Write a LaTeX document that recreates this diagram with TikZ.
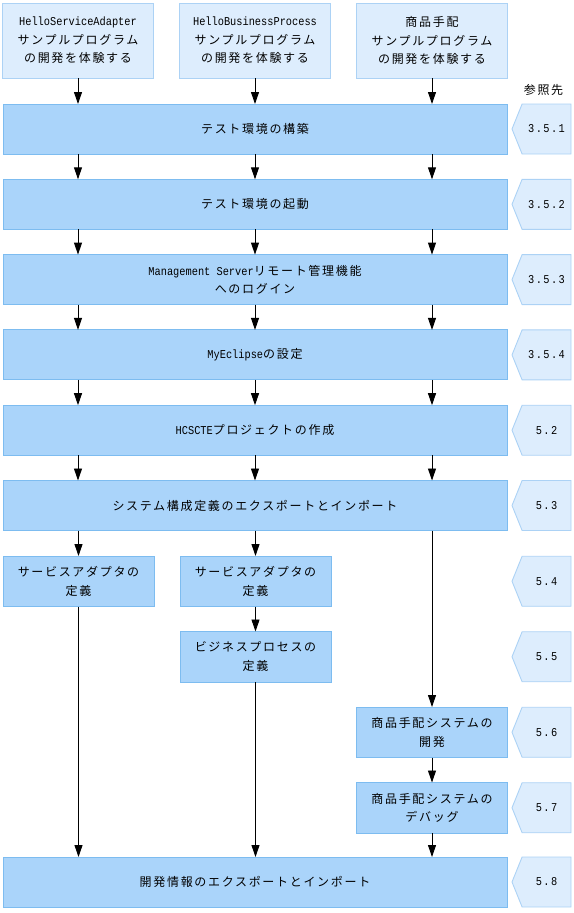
\documentclass[tikz,border=0pt]{standalone}
\usepackage{fontspec}
\setmainfont{Noto Sans CJK JP}[LetterSpace=14]
\newfontfamily\latinmono{Liberation Mono}[FakeStretch=0.86]
\newcommand{\eng}[1]{{\latinmono #1}}
\usetikzlibrary{arrows.meta,positioning,calc,shapes.symbols}
\definecolor{barfill}{RGB}{170,212,250}
\definecolor{barline}{RGB}{125,188,240}
\definecolor{palefill}{RGB}{221,237,253}
\definecolor{paleline}{RGB}{172,210,245}

\begin{document}
\begin{tikzpicture}[>={Triangle[length=12pt,width=8pt]},font=\fontsize{12pt}{18.5pt}\selectfont,
   every path/.style={line width=0.9pt},
   start/.style={draw=paleline,fill=palefill,minimum width=151pt,minimum height=75pt,align=center,inner sep=2pt,outer sep=0pt},
   bar/.style={draw=barline,fill=barfill,minimum width=504pt,minimum height=50pt,align=center,inner sep=2pt,outer sep=0pt},
   cell/.style={bar,minimum width=151pt,minimum height=50.5pt},
   reftag/.style={signal,signal to=west,signal from=nowhere,signal pointer angle=136,draw=paleline,fill=palefill,
     minimum width=59pt,minimum height=50pt,inner sep=2pt,outer sep=0pt,
     font=\fontsize{12pt}{14pt}\latinmono\addfontfeature{LetterSpace=12}}]
  \useasboundingbox (0pt,0pt) rectangle (573pt,-913pt);
  \node[start] (topB) at (255pt,-40.5pt) {\eng{HelloBusinessProcess}\\サンプルプログラム\\の開発を体験する};
  \node[start,left=26pt of topB] (topA) {\eng{HelloServiceAdapter}\\サンプルプログラム\\の開発を体験する};
  \node[start,right=26pt of topB] (topC) {商品手配\\サンプルプログラム\\の開発を体験する};
  \node[bar,below=26pt of topB] (bar1) {テスト環境の構築};
  \node[bar,below=25.3pt of bar1] (bar2) {テスト環境の起動};
  \node[bar,below=25.3pt of bar2] (bar3) {\eng{Management Server}リモート管理機能\\へのログイン};
  \node[bar,below=25.3pt of bar3] (bar4) {\eng{MyEclipse}の設定};
  \node[bar,below=25.3pt of bar4] (bar5) {\eng{HCSCTE}プロジェクトの作成};
  \node[bar,below=25.3pt of bar5] (bar6) {システム構成定義のエクスポートとインポート};
  \node[cell,below=25.5pt of bar6.south west,anchor=north west] (sa1) {サービスアダプタの\\定義};
  \node[cell,right=26pt of sa1] (sa2) {サービスアダプタの\\定義};
  \node[cell,below=25pt of sa2] (bp) {ビジネスプロセスの\\定義};
  \node[cell,anchor=north,yshift=-25pt] (dev) at (topC |- bp.south) {商品手配システムの\\開発};
  \node[cell,below=25pt of dev] (dbg) {商品手配システムの\\デバッグ};
  \node[bar,anchor=north,yshift=-24pt] (fin) at (bar6 |- dbg.south) {開発情報のエクスポートとインポート};
  \node[reftag,right=5pt of bar1] (tag1) {3.5.1};
  \node[reftag] (tag2) at (tag1 |- bar2) {3.5.2};
  \node[reftag] (tag3) at (tag1 |- bar3) {3.5.3};
  \node[reftag] (tag4) at (tag1 |- bar4) {3.5.4};
  \node[reftag] (tag5) at (tag1 |- bar5) {5.2};
  \node[reftag] (tag6) at (tag1 |- bar6) {5.3};
  \node[reftag] (tag7) at (tag1 |- sa1) {5.4};
  \node[reftag] (tag8) at (tag1 |- bp) {5.5};
  \node[reftag] (tag9) at (tag1 |- dev) {5.6};
  \node[reftag] (tag10) at (tag1 |- dbg) {5.7};
  \node[reftag] (tag11) at (tag1 |- fin) {5.8};
  \node[above=5pt of tag1,xshift=-3pt] (reflabel) {参照先};
  \foreach \c in {topA,topB,topC}{\draw[->] (\c) -- (\c |- bar1.north);}
  \foreach \a/\b in {bar1/bar2,bar2/bar3,bar3/bar4,bar4/bar5,bar5/bar6}
    \foreach \c in {topA,topB,topC}{\draw[->] (\a.south -| \c) -- (\b.north -| \c);}
  \foreach \c in {sa1,sa2,dev}{\draw[->] (bar6.south -| \c) -- (\c);}
  \foreach \a/\b in {sa2/bp,dev/dbg}{\draw[->] (\a) -- (\b);}
  \foreach \c in {sa1,bp,dbg}{\draw[->] (\c) -- (\c |- fin.north);}
\end{tikzpicture}
\end{document}
